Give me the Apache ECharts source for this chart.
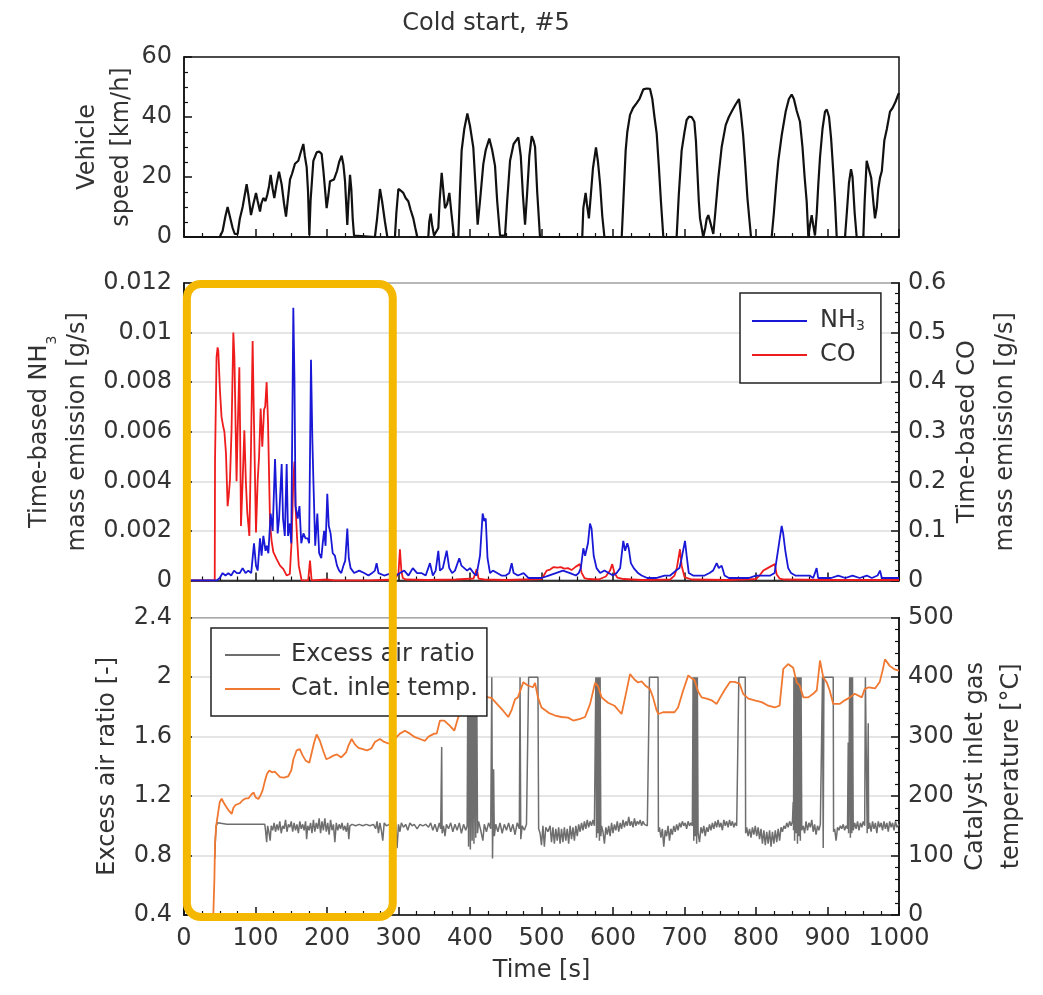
<!DOCTYPE html>
<html>
<head>
<meta charset="utf-8">
<script src="https://cdn.jsdelivr.net/npm/echarts@6/dist/echarts.min.js"></script>
<style>html,body{margin:0;padding:0;background:#fff;}#c{width:1043px;height:995px;}</style>
</head>
<body>
<div id="c"></div>
<script>
// ---------- data (time [s], value) ----------
const speedData = [[0,0],[50,0],[54,2],[58,7],[61,10],[64,7],[68,3],[71,1],[75,1],[78,6],[82,10],[87.6,17.6],[90,14],[93.7,7.3],[97,11],[100.7,14.7],[103,12],[106.3,8.5],[108,11],[110.9,13],[114,12],[116.5,14.1],[119,17],[121.2,20.7],[124,16],[126.3,13],[129,17],[132.9,21.8],[136.6,17.5],[140,11],[142.7,6.8],[145,12],[148.3,19.2],[151,21],[155.2,24.4],[159.9,25.4],[163,28],[166.9,31],[169,27],[171.6,23.2],[173.5,15],[175.3,0.6],[177,12],[180.9,25.4],[185.5,28.2],[189,28.5],[192.5,27.7],[195,22],[199.5,9.6],[202,14],[204.2,18.6],[209.8,19.2],[214,22],[217,25],[220.5,27.1],[223,24],[225.2,18.6],[228.4,4],[230,12],[232.2,20.7],[234,16],[236,6],[237.8,0.5],[267,0],[270,6],[274.1,16],[277,12],[281.1,5],[284.4,0],[295,0],[297,8],[299.8,16],[303,15.5],[306.7,14.7],[310,13],[313.7,11.9],[317,9],[320.7,6.2],[323.5,3],[326.3,0],[341.7,0],[343,5],[345,7.8],[347,4],[349.7,0.5],[355.7,3],[357.5,12],[360.4,21.4],[362.5,16],[365,9.6],[368,11],[371.1,14.7],[374,8],[377.6,0],[383.7,0],[386,15],[388.3,28.8],[392,36],[396.3,41.2],[400,37],[404.6,29.9],[407.5,18],[410.7,4.1],[414,12],[418.6,24.3],[422,29],[427,32.8],[431,29],[435,23.7],[438,12],[442,0.5],[449,0.5],[452,12],[456,25.4],[461,31],[467.6,33.2],[471,27],[474,14],[477,4.1],[480,15],[483,27],[486.3,33.6],[489,32],[491,30],[494,15],[497.9,0],[557,0],[558.5,9.6],[561.7,14.7],[563.5,11],[566.3,6.2],[569,14],[572,23],[576.2,29.9],[579,25],[582,17.5],[585,7],[588,0],[612.2,0],[614.5,12],[617.7,28.8],[620,35],[623.8,40.7],[628,43],[633.1,44.6],[637,46],[642.4,49.2],[647,49.5],[651.7,49.4],[655,46],[658,40],[661.1,34.5],[664,24],[667,12],[670.4,0],[689,0],[692,14],[696,28.8],[700,35],[703,39],[706.3,40.1],[710,40],[713.8,38.4],[716,32],[718,22],[720,12],[721.7,6.2],[726.3,0],[729,3],[731,6],[733.3,7.3],[736,5],[740.3,1],[743,8],[747.3,19.7],[752,30],[757.6,37.3],[762,40],[766,41.8],[771,44],[776.2,46],[779,41],[782,34],[784.6,25.4],[788,13],[793,0],[821.9,0],[825,8],[828,17],[831.2,25.4],[836,34],[841.5,41.8],[846,46],[849.9,47.5],[853,46],[857,42],[861.5,38.4],[865,30],[868,20],[870.9,11.8],[873.2,0],[875.5,4],[877.9,7.3],[880,4],[882.5,0.5],[885,8],[887,17],[889.5,26.5],[893,36],[896.5,41.8],[899,42.5],[902.1,40.1],[905,33],[908,22],[910.5,11.8],[912.9,0],[924.5,0],[927,8],[930,18],[932.9,22.6],[935,20],[938,8],[940.8,0],[950.1,0],[952,12],[954.8,25.4],[957,25],[961.1,19.7],[964,12],[966.4,6.2],[969,10],[971,16],[973.4,19.7],[976,22],[979.5,32.2],[983,36],[987.4,41.8],[991,43],[995,45],[999,47.5],[1000,48]];

const nh3Data = [[0,0],[46,0],[50,0.0001],[54,0.0003],[58,0.0002],[62,0.0003],[66,0.0002],[70,0.0004],[74,0.0003],[78,0.0003],[82,0.0005],[86,0.0003],[90,0.0004],[94,0.0003],[97.9,0.0015],[100.7,0.0006],[103,0.0004],[106.3,0.0017],[108.5,0.001],[111,0.0018],[114,0.0012],[116,0.0014],[118,0.0011],[121.2,0.0027],[124,0.002],[127.3,0.0049],[129,0.0035],[131,0.0019],[133,0.0025],[136.6,0.0047],[138.5,0.0025],[141,0.0018],[143.6,0.0047],[145.5,0.0018],[148,0.0023],[150,0.0015],[152.9,0.011],[154.5,0.0081],[156,0.003],[159,0.0025],[161.5,0.003],[164,0.0015],[167,0.0019],[170,0.0017],[173,0.0017],[175,0.0015],[177.6,0.0089],[179.5,0.0057],[181,0.004],[183.5,0.0014],[186.5,0.0027],[189,0.0011],[192,0.0009],[194,0.0015],[196,0.002],[198,0.0014],[200.4,0.0035],[202.5,0.0022],[205,0.0019],[208,0.0011],[211,0.001],[214,0.0006],[217,0.0004],[220,0.0003],[223,0.0006],[225.5,0.0008],[228.4,0.0021],[230.5,0.0009],[233,0.0005],[238,0.0003],[245,0.0004],[252,0.0003],[258,0.0002],[263,0.0003],[267,0.0004],[269.4,0.0007],[272,0.0003],[280,0.0002],[290,0.0003],[297,0.0002],[302,0.0003],[308,0.0004],[314,0.0002],[320,0.0005],[326,0.0003],[332,0.0003],[338,0.0002],[344,0.0007],[348,0.0002],[352,0.0004],[355.7,0.0012],[358,0.0004],[362,0.0005],[367.4,0.0012],[371,0.0005],[375,0.0003],[379,0.0004],[385,0.0009],[388,0.0006],[392,0.0005],[396,0.0004],[400,0.0005],[405,0.0003],[409,0.0002],[414,0.001],[417.7,0.0027],[420,0.0024],[422,0.0025],[424.5,0.0009],[428,0.0003],[432,0.0004],[438,0.0003],[444,0.0002],[450,0.0002],[455,0.0003],[458.3,0.0007],[461,0.0003],[467,0.0002],[475,0.0003],[482,0.0001],[490,0.0001],[500,0.0001],[510,0.0002],[520,0.0003],[530,0.0004],[540,0.0003],[548,0.0002],[552,0.0003],[555,0.0005],[558.5,0.0013],[561,0.001],[565,0.0015],[567.8,0.0023],[570,0.0021],[573,0.001],[577,0.0005],[582,0.0003],[588,0.0004],[594,0.0003],[600,0.0002],[605,0.0003],[610,0.0005],[614.4,0.0016],[617,0.0012],[620,0.0015],[622,0.0013],[625,0.0007],[629,0.0005],[635,0.0003],[640,0.0002],[648,0.0001],[660,0.0001],[672,0.0002],[680,0.0002],[688,0.0004],[693,0.0005],[696,0.0009],[700.7,0.0016],[703,0.001],[706,0.0003],[712,0.0002],[720,0.0002],[728,0.0002],[735,0.0003],[740,0.0004],[745,0.0007],[748,0.0005],[752,0.0006],[756,0.0002],[762,0.0001],[770,0.0001],[780,0.0001],[790,0.0001],[800,0.0002],[810,0.0002],[820,0.0002],[826,0.0003],[831.2,0.0013],[835.9,0.0022],[838,0.0019],[841,0.0012],[845,0.0005],[849,0.0003],[855,0.0002],[865,0.0002],[875,0.0002],[880,0.0001],[884.8,0.0005],[887,0.0001],[895,0.0001],[905,0.0001],[915,0.0002],[925,0.0001],[935,0.0002],[945,0.0001],[955,0.0002],[962,0.0001],[970,0.0002],[973.4,0.0004],[976,0.0001],[985,0.0001],[995,0.0001],[1000,0.0001]];

const coData = [[0,0],[43,0],[43.4,0.243],[45.5,0.45],[47,0.47],[48,0.463],[50.3,0.383],[52.5,0.33],[54.9,0.31],[56.5,0.3],[58.7,0.257],[61,0.15],[62.5,0.17],[64.3,0.203],[66.5,0.303],[69,0.5],[70.5,0.45],[71.5,0.37],[73.5,0.2],[75,0.3],[77.4,0.43],[78.5,0.3],[79.7,0.11],[82,0.2],[84.4,0.303],[86.5,0.2],[88.5,0.137],[91.4,0.09],[93.5,0.25],[96,0.483],[97.5,0.35],[100.7,0.097],[103,0.2],[105,0.25],[107.2,0.347],[109.5,0.27],[112,0.345],[113.5,0.35],[115.6,0.4],[117.5,0.32],[120.3,0.117],[122.5,0.08],[125,0.057],[129.6,0.043],[134.3,0.03],[139,0.023],[143.7,0.01],[148,0.013],[150.5,0.08],[152.9,0.203],[154.5,0.24],[156,0.15],[158,0.09],[160.5,0.03],[164.6,0],[173.7,0],[176.2,0.04],[178.5,0],[200,0.002],[210,0],[260,0],[295,0.002],[300,0.015],[302,0.063],[304,0.02],[306,0.005],[310,0.002],[340,0.001],[380,0.002],[405,0.004],[409.4,0.023],[412,0.004],[420,0.002],[450,0.001],[500,0.003],[504,0.012],[507.2,0.02],[512,0.022],[517,0.027],[522,0.026],[527,0.027],[532,0.024],[537,0.025],[542,0.021],[548,0.028],[553.8,0.033],[556,0.016],[560,0.005],[566,0.003],[580,0.002],[590,0.008],[595.8,0.02],[599,0.033],[602,0.015],[606,0.006],[615,0.003],[640,0.001],[680,0.002],[686,0.01],[689,0.023],[693.7,0.063],[696,0.03],[700,0.007],[710,0.002],[760,0.001],[800,0.003],[806,0.012],[810.2,0.02],[815,0.024],[820,0.028],[826.3,0.033],[829,0.012],[833,0.004],[840,0.002],[900,0.001],[1000,0.001]];

const lambdaData = [[43,0.78],[44,0.92],[45,1.0],[47,1.02],[60,1.01],[75,1.01],[90,1.01],[105,1.01],[113,1.01],[114,0.97],[115.6,0.89],[117,1.0],[119,0.95],[120.5,0.9],[122,1.0],[124,0.97],[126,1.02],[128,0.96],[130,1.01],[132,0.97],[134,1.03],[136,0.95],[138,1.0],[140,0.98],[142,1.04],[144,0.96],[146,1.01],[148,0.99],[150,1.03],[152,0.96],[154,1.02],[156,0.97],[158,1.01],[160,0.95],[162,1.03],[164,0.98],[166,1.01],[168,0.97],[170,1.03],[171.5,0.91],[173,1.0],[175,0.97],[177,1.02],[179,0.95],[181,1.04],[183,0.96],[185,1.02],[187,0.98],[189,1.05],[191,0.95],[193,1.03],[195,0.97],[197,1.05],[199,0.96],[201,1.02],[203,0.94],[205,1.04],[207,0.97],[209,1.01],[211,0.89],[213,1.02],[215,0.97],[217,1.01],[219,0.98],[221,1.02],[223,0.97],[225,1.0],[227,0.96],[229,1.02],[230.5,0.91],[232,1.0],[235,1.01],[240,1.0],[245,1.01],[250,1.0],[255,1.01],[260,1.0],[265,1.01],[268,0.98],[270,1.03],[272,0.95],[274,1.02],[276,0.97],[278,0.9],[280,1.02],[283,1.0],[287,1.01],[290,0.98],[292,1.03],[294,0.95],[296,1.02],[298,0.85],[300,1.01],[302,0.96],[304,1.02],[307,0.99],[310,1.01],[313,0.97],[316,1.02],[319,1.0],[322,1.01],[326,0.98],[330,1.01],[334,1.0],[338,1.01],[342,0.99],[345,1.02],[348,0.97],[351,1.01],[354,0.96],[357,1.02],[359,0.98],[360.4,1.53],[361,0.95],[363,1.0],[365,0.93],[367,1.01],[370,0.98],[373,1.02],[376,0.96],[379,1.01],[382,0.97],[385,1.02],[388,0.95],[391,1.01],[394,0.97],[396,1.0],[397,2.0],[398,0.86],[399.5,2.0],[400.5,0.84],[402,1.95],[403,0.9],[404.5,2.0],[405.5,0.88],[407,2.0],[408,0.92],[409.5,1.9],[410.5,0.95],[412,1.03],[415,0.97],[418,0.9],[420,1.01],[423,0.96],[426,1.02],[429,0.98],[430.5,2.0],[431.5,0.78],[433,1.38],[434,0.93],[436,1.01],[439,0.96],[442,1.02],[445,0.95],[448,1.01],[451,0.97],[454,1.02],[457,0.96],[460,1.01],[463,0.94],[466,1.02],[469,0.98],[470,2.0],[471,0.91],[473,1.0],[476,0.97],[479,1.01],[481,1.0],[482,2.0],[495,2.0],[496,0.98],[498,0.95],[500,0.87],[502,1.0],[504,0.86],[506,0.99],[509,0.96],[512,1.0],[514,0.89],[516,0.99],[518,0.88],[520,0.98],[522,0.9],[524,0.99],[526,0.88],[528,0.98],[530,0.89],[532,0.99],[534,0.9],[536,0.98],[538,0.88],[540,1.0],[542,0.91],[544,0.99],[546,0.9],[548,1.0],[550,0.93],[552,1.01],[554,0.96],[556,1.02],[558,0.97],[560,1.03],[562,0.98],[564,1.04],[566,0.99],[568,1.03],[570,1.0],[572,1.04],[574,1.0],[575.5,1.0],[576,2.0],[577,0.92],[578,2.0],[579,0.95],[580,2.0],[581,0.9],[582,2.0],[583,0.93],[584,1.0],[586,0.96],[588,0.88],[590,0.99],[592,0.94],[594,1.0],[596,0.93],[598,1.02],[600,0.95],[602,1.01],[604,0.97],[606,1.03],[608,0.96],[610,1.02],[612,0.98],[614,1.04],[616,0.99],[618,1.03],[620,1.0],[622,1.06],[624,1.0],[626,1.03],[628,0.99],[630,1.05],[632,1.0],[634,1.03],[636,1.01],[638,1.04],[640,1.0],[642,1.03],[644,1.01],[646,1.02],[648,1.0],[650.5,1.01],[651,2.0],[663,2.0],[663.5,0.96],[665,0.99],[667,0.92],[669,0.98],[671,0.86],[673,0.97],[675,0.93],[677,1.0],[679,0.9],[681,0.98],[683,0.94],[685,1.0],[687,0.96],[689,1.01],[691,0.97],[693,1.02],[695,0.99],[697,1.03],[699,1.0],[701,1.02],[703,0.98],[705,1.03],[707,1.0],[709,1.02],[711,1.0],[712,2.0],[713,0.9],[714,2.0],[715,0.93],[716,2.0],[717,0.88],[718,2.0],[719,0.95],[721,0.89],[723,0.99],[725,0.95],[727,1.0],[729,0.93],[731,0.99],[733,0.96],[735,1.01],[737,0.97],[739,1.02],[741,0.98],[743,1.03],[745,0.99],[747,1.04],[749,0.99],[751,1.02],[753,0.97],[755,1.04],[757,1.0],[759,1.03],[761,0.99],[763,1.04],[765,1.0],[767,1.03],[769,0.99],[771,1.02],[773,1.0],[775.5,1.01],[776,2.0],[785,2.0],[785.5,0.95],[787,0.99],[789,0.93],[791,0.98],[793,0.92],[795,0.99],[797,0.94],[799,1.0],[801,0.93],[803,0.99],[805,0.91],[807,0.98],[809,0.88],[811,0.97],[813,0.87],[815,0.96],[817,0.88],[819,0.97],[821,0.86],[823,0.96],[825,0.88],[827,0.97],[829,0.89],[831,0.98],[833,0.9],[835,0.99],[837,0.96],[839,1.0],[841,0.98],[843,1.02],[845,0.99],[847,1.03],[849,1.0],[851,1.03],[852,1.16],[852.5,0.97],[853,2.0],[854,0.9],[855,2.0],[856,0.95],[857,2.0],[858,0.88],[859,2.0],[860,0.93],[861,2.0],[862,0.9],[863,2.0],[864,0.97],[866,1.0],[868,0.95],[870,1.03],[872,0.97],[874,1.02],[876,0.99],[878,1.04],[880,0.96],[882,1.01],[884,0.94],[886,1.0],[888,0.97],[890,1.01],[892,1.0],[893,2.0],[894,0.85],[895,2.0],[908,2.0],[908.5,0.96],[910,0.98],[912,0.9],[914,0.99],[916,0.97],[918,1.0],[920,0.98],[922,1.01],[924,0.97],[926,1.0],[928,0.98],[929,1.56],[929.5,0.95],[931,2.0],[932,0.92],[933,2.0],[934,0.95],[935,2.0],[936,0.97],[938,1.02],[940,0.98],[942,1.03],[944,0.97],[946,1.02],[948,0.99],[950,1.03],[952,1.0],[953,2.0],[955,2.0],[955.5,0.95],[957,1.69],[957.5,0.98],[959,1.02],[961,0.96],[963,1.03],[965,0.98],[967,1.02],[969,0.95],[971,1.03],[973,0.99],[975,1.02],[977,0.97],[979,1.03],[981,0.98],[983,1.02],[985,0.96],[987,1.03],[989,0.99],[991,1.02],[993,0.97],[995,1.03],[997,0.99],[1000,1.01]];

const tempData = [[41,0],[42.5,60],[43.4,119],[45,150],[47.5,170],[50,190],[52.7,195.5],[55,190],[59,182],[63,175],[66.7,170],[69,180],[72,185],[78.3,188],[82,193],[86,196],[90,196],[94.5,203],[97.5,206],[100,198],[104,195],[107,201],[110,210],[113.3,226],[116,237],[119.3,243],[123,240],[127,241],[131,236],[134.3,232],[140,231],[145.5,233],[150,243],[153,262],[157.6,277],[162,279],[166,268],[170,260],[175.3,256],[178,270],[182,290],[185.5,303.6],[190,293],[195,275],[199,262],[203,264],[209,268],[214,270],[220,265],[227,274],[230,285],[234.5,296],[239,287],[244,281],[250,279],[256,277],[262,280],[267,291],[274,296],[280,291],[287,288],[294,295],[302,305],[309,310],[316,305],[323,299],[330,296],[337,293],[342,300],[350,305],[353.4,305],[358,327],[364,327],[372,318],[378,310],[383.7,333],[390,345],[395.3,350],[402,361],[409,358],[416.3,372],[422,367],[430,365],[437,356],[446,344],[453.6,333],[458,344],[463,363],[467,366],[474.6,391.6],[481,386],[488,383],[491,390.5],[495,366],[500,349],[510,340],[519,335.5],[528,333],[537,332],[544.5,327],[554,330],[561,333],[568,355],[575,390.5],[579,385],[584,366],[593,357],[602,352],[612,338],[617,366],[623.8,405],[630,396],[635,391],[640,393],[646,385],[651.7,380],[656,366],[661,344],[663.5,338],[670,341],[677,341],[686,341],[691,349],[698,377],[705.3,403],[710,398],[714,395],[719,376],[724,366],[731,364],[738,361],[745,355],[750,366],[757,380],[763.6,392],[770,392],[777,389],[782,372],[789.3,364],[798,361],[808,358],[817.2,352],[826,349],[833,352],[838.2,414],[845,422],[852,416],[857,391],[861,386],[866.3,366],[873,366],[880,372],[885,378],[889.5,428],[894,400],[899,391],[903,378],[908.1,355],[917,355],[924,361],[931.5,366],[938,372],[948,366],[952,380],[958,383],[966.4,381],[973,392],[977,411],[980.4,430],[987,419],[994,413],[1000,411]];

const highlightSpan = [4, 292];   // highlighted time window [s]
// ----------------------------------------------

const FONT = 'DejaVu Sans';
const TXT = '#333';
const chart = echarts.init(document.getElementById('c'), null, {renderer: 'canvas'});

function xAx(i, labels) {
  return {
    type: 'value', gridIndex: i, min: 0, max: 1000, interval: 100,
    axisLine: {show: true, lineStyle: {color: '#111', width: 1.5}},
    axisTick: {show: true, inside: true, length: 8, lineStyle: {color: '#111', width: 1.5}},
    minorTick: {show: true, splitNumber: 4, length: 4, lineStyle: {color: '#111', width: 1.2}},
    splitLine: {show: false},
    axisLabel: {show: labels, fontSize: 24, color: TXT, fontFamily: FONT, margin: 12,
      formatter: v => String(v)},
    name: labels ? 'Time [s]' : '', nameLocation: 'middle', nameGap: 44, nameMoveOverlap: false,
    nameTextStyle: {fontSize: 24, color: TXT, fontFamily: FONT}
  };
}
function yAx(i, pos, min, max, interval, minorSplit, name, gap, lh, grid) {
  return {
    type: 'value', gridIndex: i, position: pos, min: min, max: max, interval: interval,
    axisLine: {show: true, lineStyle: {color: '#111', width: 1.5}},
    axisTick: {show: true, inside: true, length: 8, lineStyle: {color: '#111', width: 1.5}},
    minorTick: {show: true, splitNumber: minorSplit, length: 4, lineStyle: {color: '#111', width: 1.2}},
    splitLine: {show: grid, lineStyle: {color: '#dcdcdc', width: 1.5}},
    axisLabel: {fontSize: 24, color: TXT, fontFamily: FONT, margin: pos === 'left' ? 12 : 9},
    name: name, nameLocation: 'middle', nameGap: gap, nameMoveOverlap: false,
    nameTextStyle: {fontSize: 24, color: TXT, fontFamily: FONT, lineHeight: lh,
      rich: {sub: {fontSize: 14, fontFamily: FONT, color: TXT, verticalAlign: 'bottom', lineHeight: lh}}}
  };
}

const option = {
  animation: false,
  backgroundColor: '#fff',
  title: {text: 'Cold start, #5', left: 481, top: 7, textAlign: 'center',
    textStyle: {fontSize: 24, fontWeight: 'normal', color: TXT, fontFamily: FONT}},
  grid: [
    {left: 184, right: 144, top: 57, height: 180, show: true, borderColor: '#111', borderWidth: 1.5},
    {left: 184, right: 144, top: 283, height: 297.5, show: true, borderColor: '#111', borderWidth: 1.5},
    {left: 184, right: 144, top: 617.7, height: 297.3, show: true, borderColor: '#111', borderWidth: 1.5}
  ],
  xAxis: [xAx(0, false), xAx(1, false), xAx(2, true)],
  yAxis: [
    yAx(0, 'left', 0, 60, 20, 4, 'Vehicle\nspeed [km/h]', 45, 34, false),
    yAx(1, 'left', 0, 0.012, 0.002, 5, 'Time-based NH{sub|3}\nmass emission [g/s]', 87, 38, true),
    yAx(1, 'right', 0, 0.6, 0.1, 5, 'Time-based CO\nmass emission [g/s]', 50, 38, false),
    yAx(2, 'left', 0.4, 2.4, 0.4, 8, 'Excess air ratio [-]', 59, 34, true),
    yAx(2, 'right', 0, 500, 100, 5, 'Catalyst inlet gas\ntemperature [°C]', 59, 36, false)
  ],
  legend: [
    {data: ['NH3', 'CO'], orient: 'vertical', left: 740, top: 293, itemWidth: 55, itemHeight: 2,
     itemGap: 10, icon: 'rect', borderColor: '#222', borderWidth: 1.5, padding: [16, 16, 16, 12],
     backgroundColor: '#fff',
     formatter: n => n === 'NH3' ? 'NH{sub|3}' : n,
     textStyle: {fontSize: 24, color: TXT, fontFamily: FONT, padding: [0, 0, 0, 8],
       rich: {sub: {fontSize: 14, color: TXT, fontFamily: FONT, verticalAlign: 'bottom'}}}},
    {data: ['Excess air ratio', 'Cat. inlet temp.'], orient: 'vertical', left: 211, top: 628,
     itemWidth: 55, itemHeight: 2, itemGap: 10, icon: 'rect', borderColor: '#222', borderWidth: 1.5,
     padding: [15, 9, 15, 14], backgroundColor: '#fff',
     textStyle: {fontSize: 24, color: TXT, fontFamily: FONT, padding: [0, 0, 0, 6]}}
  ],
  series: [
    {name: 'Vehicle speed', type: 'line', xAxisIndex: 0, yAxisIndex: 0, data: speedData,
     showSymbol: false, lineStyle: {color: '#111', width: 2.2}, itemStyle: {color: '#111'}},
    {name: 'CO', type: 'line', xAxisIndex: 1, yAxisIndex: 2, data: coData,
     showSymbol: false, lineStyle: {color: '#ee1c1c', width: 1.8}, itemStyle: {color: '#ee1c1c'}},
    {name: 'NH3', type: 'line', xAxisIndex: 1, yAxisIndex: 1, data: nh3Data,
     showSymbol: false, lineStyle: {color: '#1818d6', width: 1.8}, itemStyle: {color: '#1818d6'}},
    {name: 'Excess air ratio', type: 'line', xAxisIndex: 2, yAxisIndex: 3, data: lambdaData,
     showSymbol: false, lineStyle: {color: '#6e6e6e', width: 1.5}, itemStyle: {color: '#6e6e6e'}},
    {name: 'Cat. inlet temp.', type: 'line', xAxisIndex: 2, yAxisIndex: 4, data: tempData,
     showSymbol: false, lineStyle: {color: '#f07830', width: 1.8}, itemStyle: {color: '#f07830'}}
  ]
};
chart.setOption(option);

// highlight box spanning the emission and lambda panels, placed via axis scales
const pTop = chart.convertToPixel({xAxisIndex: 1, yAxisIndex: 1}, [highlightSpan[0], 0.012]);
const pBot = chart.convertToPixel({xAxisIndex: 2, yAxisIndex: 3}, [highlightSpan[1], 0.4]);
chart.setOption({
  graphic: [{
    type: 'rect', z: 100,
    shape: {x: pTop[0], y: pTop[1] + 1, width: pBot[0] - pTop[0], height: pBot[1] - pTop[1] + 1, r: 14},
    style: {fill: 'none', stroke: '#f5b800', lineWidth: 8}
  }]
});
</script>
</body>
</html>
